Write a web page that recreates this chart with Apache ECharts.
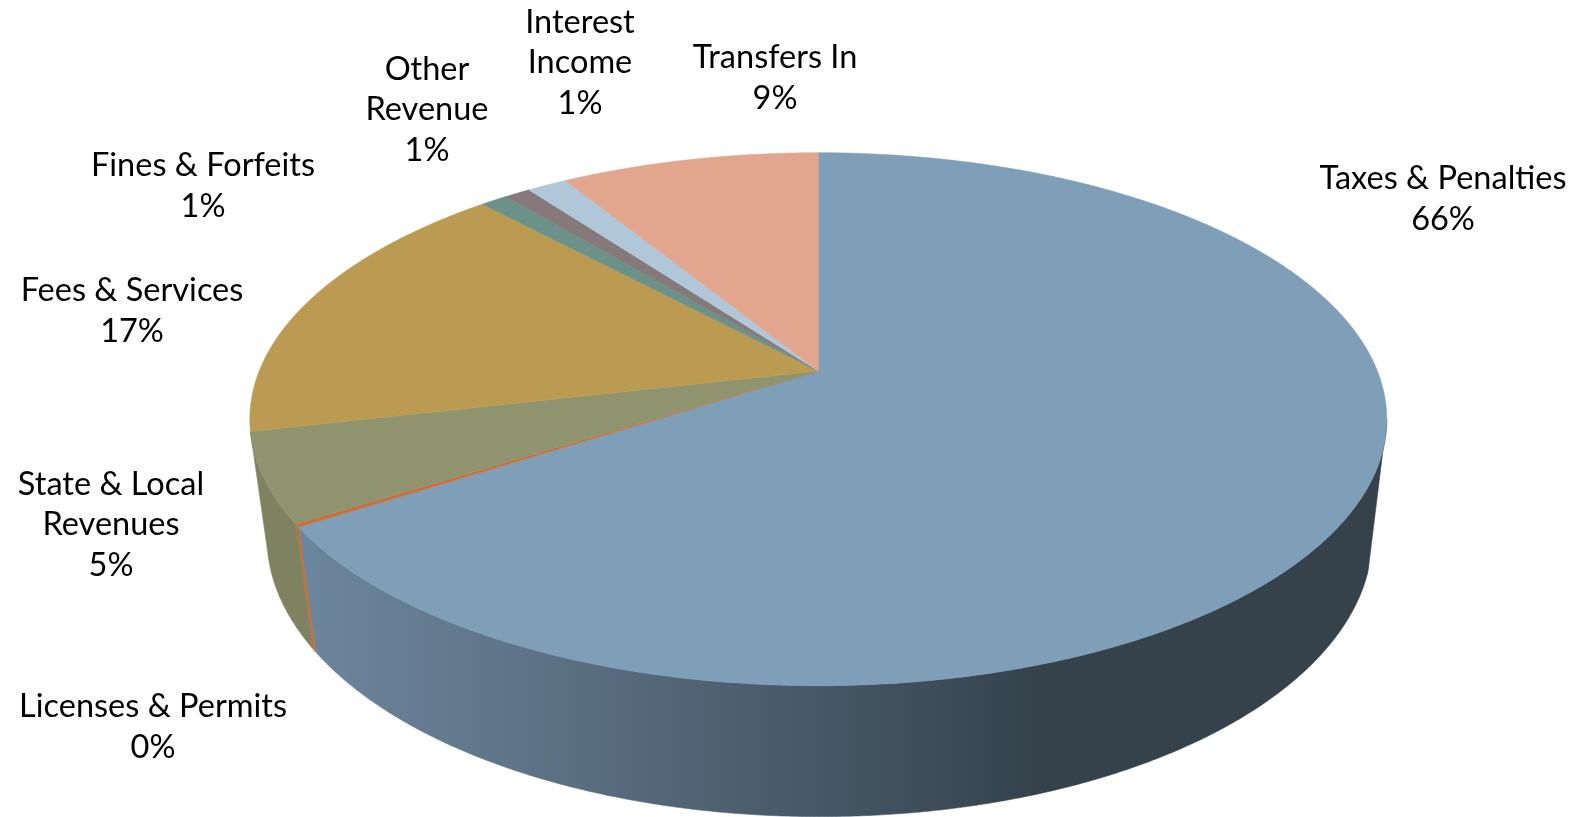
<!DOCTYPE html>
<html><head><meta charset="utf-8">
<style>html,body{margin:0;padding:0;background:#fff}#c{width:1585px;height:817px}</style>
<script src="https://cdn.jsdelivr.net/npm/echarts@6/dist/echarts.min.js"></script>
</head><body><div id="c"></div>
<script>
// Data
const categories = ['Taxes & Penalties','Licenses & Permits','State & Local\nRevenues','Fees & Services','Fines & Forfeits','Other\nRevenue','Interest\nIncome','Transfers In'];
const shares = [65.8, 0.2, 5.38, 16.71, 0.92, 0.88, 1.36, 8.75];
const topColors = ['#7f9fb9','#c8703d','#8f946e','#bb9a52','#6b9189','#857a79','#b0c7da','#e2a68e'];

// Layout
const labelCenters = [[1443,199],[153,727],[111,525],[132,311],[203,186],[427,110],[580,63],[775,78]];
const P = {x0:818.3, y0:371, a:257.8, b:559.1, k:-0.1809, m:0.03, c:120.5, dx:2.5};
const FONT = 'Lato';

const total = shares.reduce((s,v)=>s+v,0);
const starts = []; shares.reduce((s,v,i)=>{starts[i]=s;return s+v;},0);
const toRad = v => v/total*2*Math.PI;
function project(theta,w){
  const u=Math.sin(theta), v=-Math.cos(theta);
  const D=1+P.k*v+P.m*w;
  const skew = u>0 ? P.dx*w : 0;
  return [P.x0+P.b*u/D+skew, P.y0+(P.a*v+P.c*w)/D];
}
function arc(t0,t1,w){
  const n=Math.max(2,Math.ceil((t1-t0)/0.006)), pts=[];
  for(let i=0;i<=n;i++) pts.push(project(t0+(t1-t0)*i/n,w));
  return pts;
}
// the right-hand silhouette of the wall runs from the top rim tangent to the bottom rim tangent
const WALL_TOP_MIN = 100.5*Math.PI/180, WALL_BOTTOM_MIN = 107*Math.PI/180;
const taxWall = {type:'linear',global:true,x:300,y:0,x2:1040,y2:0,colorStops:[
  {offset:0,color:'#6c869d'},{offset:0.35,color:'#5c7084'},{offset:0.7,color:'#465866'},{offset:1,color:'#35424c'}]};
const wallFills = [taxWall,'#c0703f','#7f8260',null,null,null,null,null];

function wallItem(params){
  const i=params.dataIndex;
  const fill=wallFills[i];
  if(!fill) return {type:'group',children:[]};
  const t0=toRad(starts[i]), t1=toRad(starts[i]+shares[i]);
  const pts=arc(Math.max(t0,WALL_TOP_MIN),t1,0).concat(arc(Math.max(t0,WALL_BOTTOM_MIN),t1,1).reverse());
  return {type:'polygon',shape:{points:pts},style:{fill,stroke:fill,lineWidth:0.6},silent:true};
}
function topItem(params){
  const i=params.dataIndex;
  const pts=[[P.x0,P.y0]].concat(arc(toRad(starts[i]),toRad(starts[i]+shares[i]),0));
  return {type:'polygon',shape:{points:pts},style:{fill:topColors[i],stroke:topColors[i],lineWidth:0.5},silent:true};
}
function labelItem(params,api){
  const i=params.dataIndex;
  return {type:'text',x:labelCenters[i][0],y:labelCenters[i][1],silent:true,
    style:{text:categories[i]+'\n'+Math.round(api.value(0))+'%',fill:'#000',font:'400 32.5px '+FONT,
      align:'center',verticalAlign:'middle',lineHeight:40.7}};
}
const base={type:'custom',coordinateSystem:'none',data:shares.map((v,i)=>({name:categories[i].replace('\n',' '),value:v})),
  animation:false,silent:true,clip:false};
const chart=echarts.init(document.getElementById('c'),null,{renderer:'canvas',width:1585,height:817});
chart.setOption({animation:false,backgroundColor:'#fff',series:[
  Object.assign({},base,{z:1,renderItem:wallItem}),
  Object.assign({},base,{z:2,renderItem:topItem}),
  Object.assign({},base,{z:3,renderItem:labelItem})
]});
</script></body></html>
